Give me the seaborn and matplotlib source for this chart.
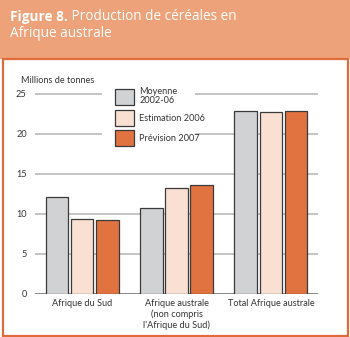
import matplotlib
matplotlib.use("Agg")
import matplotlib.pyplot as plt
import seaborn as sns
import pandas as pd
from matplotlib.patches import Rectangle
from matplotlib.transforms import IdentityTransform

regions = ["Afrique du Sud", "Afrique australe\n(non compris\nl'Afrique du Sud)", "Total Afrique australe"]
series = ["Moyenne\n2002-06", "Estimation 2006", "Prévision 2007"]
moyenne = [12.1, 10.65, 22.8]
estimation = [9.35, 13.15, 22.65]
prevision = [9.15, 13.55, 22.8]
yticks = [0, 5, 10, 15, 20, 25]
title_bold = "Figure 8."
title_rest = " Production de céréales en"
title_line2 = "Afrique australe"
ylabel = "Millions de tonnes"

colors = ["#D1D2D4", "#F9E0D2", "#E07340"]

df = pd.DataFrame({
    "region": regions * 3,
    "serie": [series[0]] * 3 + [series[1]] * 3 + [series[2]] * 3,
    "value": moyenne + estimation + prevision,
})

sns.set_style("white")
plt.rcParams["font.family"] = ["Lato", "DejaVu Sans"]
small = 6.6
tcol = "#333333"

W, H = 350, 337
fig = plt.figure(figsize=(W / 100, H / 100), dpi=100)

# title band and panel border
fig.patches.append(Rectangle((0, 1 - 59 / H), 1, 59 / H, transform=fig.transFigure,
                             facecolor="#EDA27A", edgecolor="none", zorder=-2))
fig.patches.append(Rectangle((2.5 / W, 1.5 / H), (W - 5) / W, (H - 60.5) / H, transform=fig.transFigure,
                             facecolor="white", edgecolor="#E06A3A", linewidth=1.6, zorder=-1))

y0_px, y25_px = 293.5, 93.5
ytop = 25.3
left_px, right_px = 35, 318
ax_h = (y0_px - y25_px) * ytop / 25 / H
ax = fig.add_axes([left_px / W, (H - y0_px) / H, (right_px - left_px) / W, ax_h])
ax.set_zorder(2)
ax.patch.set_alpha(0)

sns.barplot(data=df, x="region", y="value", hue="serie", palette=colors, ax=ax,
            width=0.8, gap=0.1, edgecolor="#3a3a3a", linewidth=0.9, saturation=1,
            errorbar=None, zorder=3)

ax.set_xlim(-0.5, 2.5)
ax.set_ylim(0, ytop)
ax.set_yticks(yticks)
ax.set_yticklabels([str(t) for t in yticks], fontsize=small, color=tcol)
ax.tick_params(axis="y", length=0, pad=6)
ax.tick_params(axis="x", length=0, pad=4, labelsize=small, labelcolor=tcol)
for lab in ax.get_xticklabels():
    lab.set_linespacing(1.2)
ax.set_xlabel("")
ax.set_ylabel("")
for s in ax.spines.values():
    s.set_visible(False)
ax.set_axisbelow(True)
ax.yaxis.grid(True, color="#B4B4B4", linewidth=1.1)
ax.axhline(0, color="#808080", linewidth=1.2, zorder=2.5)

fig.text(21 / W, 1 - 80.5 / H, ylabel, fontsize=small, color=tcol, va="center", ha="left", zorder=3)

handles, labels = ax.get_legend_handles_labels()
leg = ax.legend(handles, labels, loc="upper left",
                bbox_to_anchor=((115 - left_px) / (right_px - left_px), 1.0 + 4.5 / (ax_h * H)),
                frameon=False, fontsize=small, handlelength=2.1, handleheight=2.31, labelspacing=0.5,
                borderpad=0.0, borderaxespad=0.0, handletextpad=0.55, labelcolor=tcol)
leg.set_zorder(5)
for t in leg.get_texts():
    t.set_linespacing(1.1)

tb = fig.text(10 / W, 1 - 20.5 / H, title_bold, fontsize=9.8, fontweight="bold", color="white",
              va="baseline", zorder=3, family=["Open Sans", "DejaVu Sans"])
fig.canvas.draw()
bb = tb.get_window_extent()
fig.text(bb.x1 / W, 1 - 20.5 / H, title_rest, fontsize=9.8, color="white", va="baseline", zorder=3,
         family=["Open Sans", "DejaVu Sans"])
fig.text(10 / W, 1 - 37 / H, title_line2, fontsize=9.8, color="white", va="baseline", zorder=3,
         family=["Open Sans", "DejaVu Sans"])

# white backing behind the legend, interrupting the gridlines
lb = leg.get_window_extent()
axb = ax.get_window_extent()
ax.add_patch(Rectangle((axb.x0 + 67, lb.y0 - 4), 93, lb.height + 8, transform=IdentityTransform(),
                       facecolor="white", edgecolor="none", zorder=4))

fig.savefig("out.png", dpi=100)
